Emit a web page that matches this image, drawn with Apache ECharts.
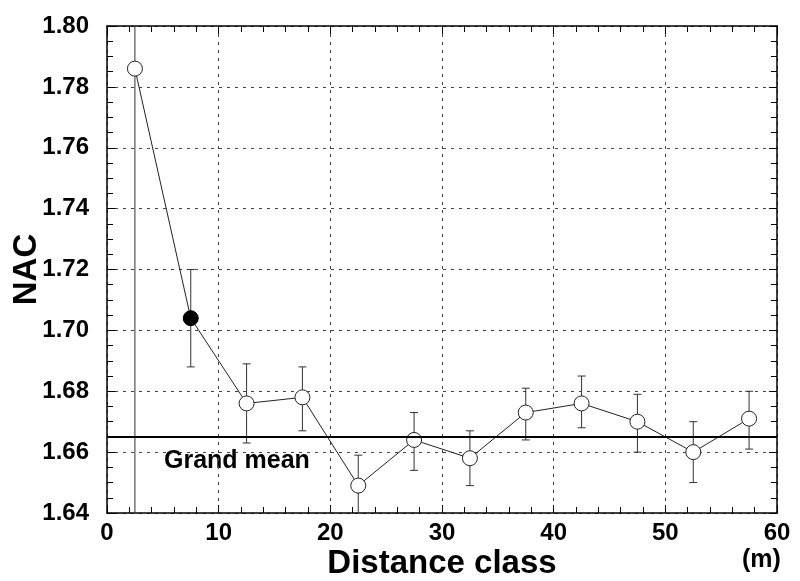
<!DOCTYPE html>
<html>
<head>
<meta charset="utf-8">
<script src="https://cdn.jsdelivr.net/npm/echarts@6/dist/echarts.min.js"></script>
<style>
  html, body { margin: 0; padding: 0; background: #fff; }
  #main { width: 800px; height: 581px; }
</style>
</head>
<body>
<div id="main"></div>
<script>
// distance class midpoints (m)
const distance = [2.5, 7.5, 12.5, 17.5, 22.5, 27.5, 32.5, 37.5, 42.5, 47.5, 52.5, 57.5];
const nac = [1.786, 1.704, 1.676, 1.678, 1.649, 1.664, 1.658, 1.673, 1.676, 1.670, 1.660, 1.671];
const errLow = [1.58, 1.688, 1.663, 1.667, 1.638, 1.654, 1.649, 1.664, 1.668, 1.660, 1.650, 1.661];
const errHigh = [1.99, 1.720, 1.689, 1.688, 1.659, 1.673, 1.667, 1.681, 1.685, 1.679, 1.670, 1.680];
const filledIndex = 1;
const grandMean = 1.665;

const font = 'Liberation Sans, Arial, sans-serif';
const chart = echarts.init(document.getElementById('main'));

const dashed = { show: true, lineStyle: { color: '#444', type: [3, 5], width: 1 } };

// error bars, clipped to the plot area (no cap where clipped)
function renderErr(params, api) {
  const x = api.value(0);
  const lo = api.coord([x, api.value(1)]);
  const hi = api.coord([x, api.value(2)]);
  const cs = params.coordSys;
  const top = cs.y, bottom = cs.y + cs.height;
  const y1 = Math.max(hi[1], top), y2 = Math.min(lo[1], bottom);
  const w = 4;
  const style = { stroke: '#333', lineWidth: 1 };
  const kids = [{ type: 'line', shape: { x1: lo[0], y1: y1, x2: lo[0], y2: y2 }, style: style }];
  if (hi[1] >= top) kids.push({ type: 'line', shape: { x1: hi[0] - w, y1: hi[1], x2: hi[0] + w, y2: hi[1] }, style: style });
  if (lo[1] <= bottom) kids.push({ type: 'line', shape: { x1: lo[0] - w, y1: lo[1], x2: lo[0] + w, y2: lo[1] }, style: style });
  return { type: 'group', children: kids };
}

const xBase = {
  type: 'value', min: 0, max: 60, interval: 10,
  axisLine: { show: true, onZero: false, lineStyle: { color: '#000', width: 1.5 } },
  axisTick: { show: true, inside: true, length: 8, lineStyle: { color: '#000' } },
  minorTick: { show: true, splitNumber: 5, length: 6, lineStyle: { color: '#000' } }
};
const yBase = {
  type: 'value', min: 1.64, max: 1.80, interval: 0.02,
  axisLine: { show: true, onZero: false, lineStyle: { color: '#000', width: 1.5 } },
  axisTick: { show: true, inside: true, length: 8, lineStyle: { color: '#000' } },
  minorTick: { show: true, splitNumber: 4, length: 6, lineStyle: { color: '#000' } }
};

chart.setOption({
  backgroundColor: '#fff',
  animation: false,
  grid: { left: 107, right: 23, top: 26, bottom: 68, outerBoundsMode: 'none', containLabel: false },
  xAxis: [
    Object.assign({}, xBase, {
      position: 'bottom',
      name: 'Distance class', nameLocation: 'middle', nameGap: 34, nameMoveOverlap: false,
      nameTextStyle: { fontFamily: font, fontWeight: 'bold', fontSize: 33, color: '#000' },
      axisLabel: { fontFamily: font, fontWeight: 'bold', fontSize: 24, color: '#000', margin: 8 },
      splitLine: dashed
    }),
    Object.assign({}, xBase, { position: 'top', axisLabel: { show: false }, splitLine: { show: false } })
  ],
  yAxis: [
    Object.assign({}, yBase, {
      position: 'left',
      name: 'NAC', nameLocation: 'middle', nameGap: 64, nameMoveOverlap: false,
      nameTextStyle: { fontFamily: font, fontWeight: 'bold', fontSize: 33, color: '#000' },
      axisLabel: { fontFamily: font, fontWeight: 'bold', fontSize: 24, color: '#000', margin: 18,
        formatter: v => v.toFixed(2) },
      splitLine: dashed
    }),
    Object.assign({}, yBase, { position: 'right', axisLabel: { show: false }, splitLine: { show: false } })
  ],
  graphic: [
    { type: 'text', left: 742, top: 548,
      style: { text: '(m)', font: 'bold 25px ' + font, fill: '#000' } },
    { type: 'text', left: 164, top: 449,
      style: { text: 'Grand mean', font: 'bold 25px ' + font, fill: '#000' } }
  ],
  series: [
    {
      type: 'custom',
      renderItem: renderErr,
      data: distance.map((d, i) => [d, errLow[i], errHigh[i]]),
      z: 2
    },
    {
      type: 'line',
      data: distance.map((d, i) => ({
        value: [d, nac[i]],
        itemStyle: i === filledIndex ? { color: '#000', borderColor: '#000' } : undefined
      })),
      symbol: 'circle', symbolSize: 15,
      lineStyle: { color: '#222', width: 1 },
      itemStyle: { color: '#fff', borderColor: '#222', borderWidth: 1 },
      z: 3,
      markLine: {
        silent: true, symbol: 'none', precision: 4, label: { show: false },
        lineStyle: { color: '#000', width: 2, type: 'solid' },
        data: [{ yAxis: grandMean }]
      }
    }
  ]
});
</script>
</body>
</html>
